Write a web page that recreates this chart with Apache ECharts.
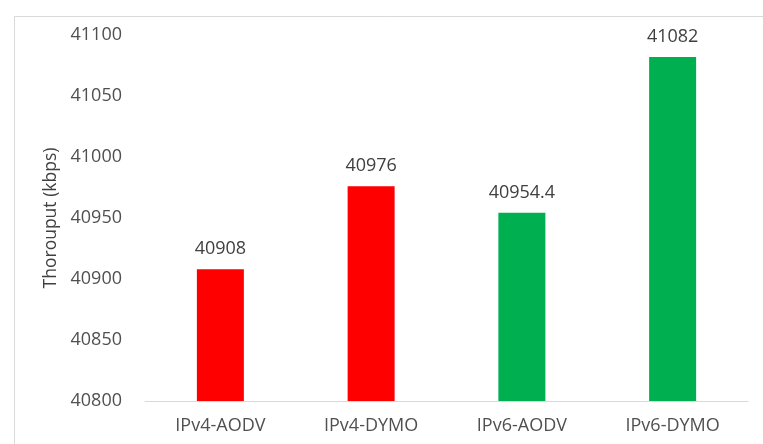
<!DOCTYPE html>
<html><head><meta charset="utf-8">
<script src="https://cdn.jsdelivr.net/npm/echarts@6/dist/echarts.min.js"></script>
<style>html,body{margin:0;padding:0;background:#fff}#c{width:763px;height:444px}</style>
</head><body><div id="c"></div>
<script>
const categories = ["IPv4-AODV", "IPv4-DYMO", "IPv6-AODV", "IPv6-DYMO"];
const throughput = [40908, 40976, 40954.4, 41082];
const barColors = ["#FF0000", "#FF0000", "#00B050", "#00B050"];
const yTitle = "Thorouput (kbps)";

const chart = echarts.init(document.getElementById('c'), null, {renderer: 'canvas'});
const font = '"Open Sans", "Liberation Sans", sans-serif';
chart.setOption({
  animation: false,
  backgroundColor: '#fff',
  graphic: [{
    type: 'rect', left: 12, top: 14,
    shape: {width: 800, height: 500},
    style: {fill: 'none', stroke: '#d9d9d9', lineWidth: 1},
    silent: true
  }],
  grid: {left: 145, right: 15, top: 35, bottom: 43},
  xAxis: {
    type: 'category', data: categories,
    axisLine: {lineStyle: {color: '#d9d9d9', width: 1}},
    axisTick: {show: false},
    axisLabel: {color: '#505050', fontSize: 18, fontFamily: font, margin: 16}
  },
  yAxis: {
    type: 'value', min: 40800, max: 41100, interval: 50,
    name: yTitle, nameLocation: 'middle', nameGap: 84,
    nameTextStyle: {color: '#404040', fontSize: 17.5, fontFamily: font},
    axisLine: {show: false}, axisTick: {show: false},
    splitLine: {show: false},
    axisLabel: {color: '#505050', fontSize: 18, fontFamily: font, margin: 23,
      formatter: v => String(v)}
  },
  series: [{
    type: 'bar', barWidth: 47,
    data: throughput.map((v, i) => ({value: v, itemStyle: {color: barColors[i]}})),
    label: {show: true, position: 'top', distance: 11, color: '#404040', fontSize: 18, fontFamily: font}
  }]
});
</script></body></html>
